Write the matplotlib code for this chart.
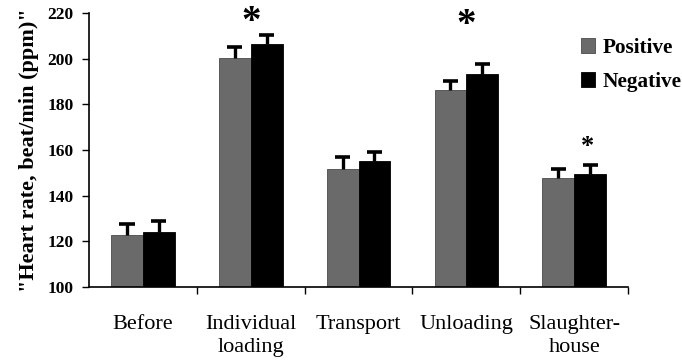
import numpy as np
import matplotlib.pyplot as plt
from matplotlib.ticker import FixedLocator

categories = ["Before", "Individual\nloading", "Transport", "Unloading", "Slaughter-\nhouse"]
positive = [122.6, 200.5, 151.8, 186.2, 147.7]
negative = [124.0, 206.5, 155.3, 193.3, 149.3]
positive_err = [5.0, 4.5, 5.0, 4.0, 4.0]
negative_err = [4.8, 4.0, 4.0, 4.4, 4.3]

# significance markers: (category index, y, size)
stars = [(1, 216.0, 28), (3, 214.5, 28), (4, 161.5, 19)]

plt.rcParams["font.family"] = ["Liberation Serif", "DejaVu Serif"]

fig = plt.figure(figsize=(6.82, 3.64), dpi=100)
ax = fig.add_axes([0.1305, 0.2115, 0.7905, 0.7525])

x = np.arange(len(categories))
w = 0.295

ax.bar(x - w / 2, positive, w, color="#6a6a6a", edgecolor="#4a4a4a",
       linewidth=0.6, zorder=2, label="Positive")
ax.bar(x + w / 2, negative, w, color="black", edgecolor="black",
       linewidth=0.6, zorder=2, label="Negative")

# one-sided (upper) error bars
cap = 0.07
for xs, vals, errs in [(x - w / 2, positive, positive_err), (x + w / 2, negative, negative_err)]:
    vals = np.asarray(vals)
    tops = vals + np.asarray(errs)
    ax.vlines(xs, vals, tops, color="black", linewidth=2.4, zorder=3)
    ax.hlines(tops, xs - cap, xs + cap, color="black", linewidth=2.6, zorder=3)

for i, ys, fs in stars:
    xs = x[i] + (0.12 if i == 4 else 0.0)
    ax.text(xs, ys, "*", ha="center", va="center", fontsize=fs, fontweight="bold")

ax.set_xlim(-0.5, len(categories) - 0.5)
ax.set_ylim(100, 220)
ax.set_yticks(np.arange(100, 221, 20))
ax.tick_params(axis="y", direction="out", length=5, width=1, labelsize=12.5, pad=6)
for lab in ax.get_yticklabels():
    lab.set_fontweight("bold")

ax.set_xticks(x)
ax.set_xticklabels(categories, fontsize=16, linespacing=1.3)
ax.tick_params(axis="x", which="major", length=0, pad=20)
ax.xaxis.set_minor_locator(FixedLocator(np.arange(0.5, len(categories), 1.0)))
ax.tick_params(axis="x", which="minor", direction="out", length=5, width=1)

ax.spines["top"].set_visible(False)
ax.spines["right"].set_visible(False)
ax.spines["left"].set_linewidth(1.2)
ax.spines["bottom"].set_linewidth(1.2)

ax.set_ylabel('"Heart rate, beat/min (ppm)"', fontsize=16, fontweight="bold", labelpad=6)

leg = ax.legend(loc="upper left", bbox_to_anchor=(0.913, 0.91), frameon=False,
                handlelength=0.66, handleheight=0.7, handletextpad=0.33,
                labelspacing=0.66, borderaxespad=0, borderpad=0,
                prop={"weight": "bold", "size": 15.3})

fig.savefig("out.png", dpi=100)
